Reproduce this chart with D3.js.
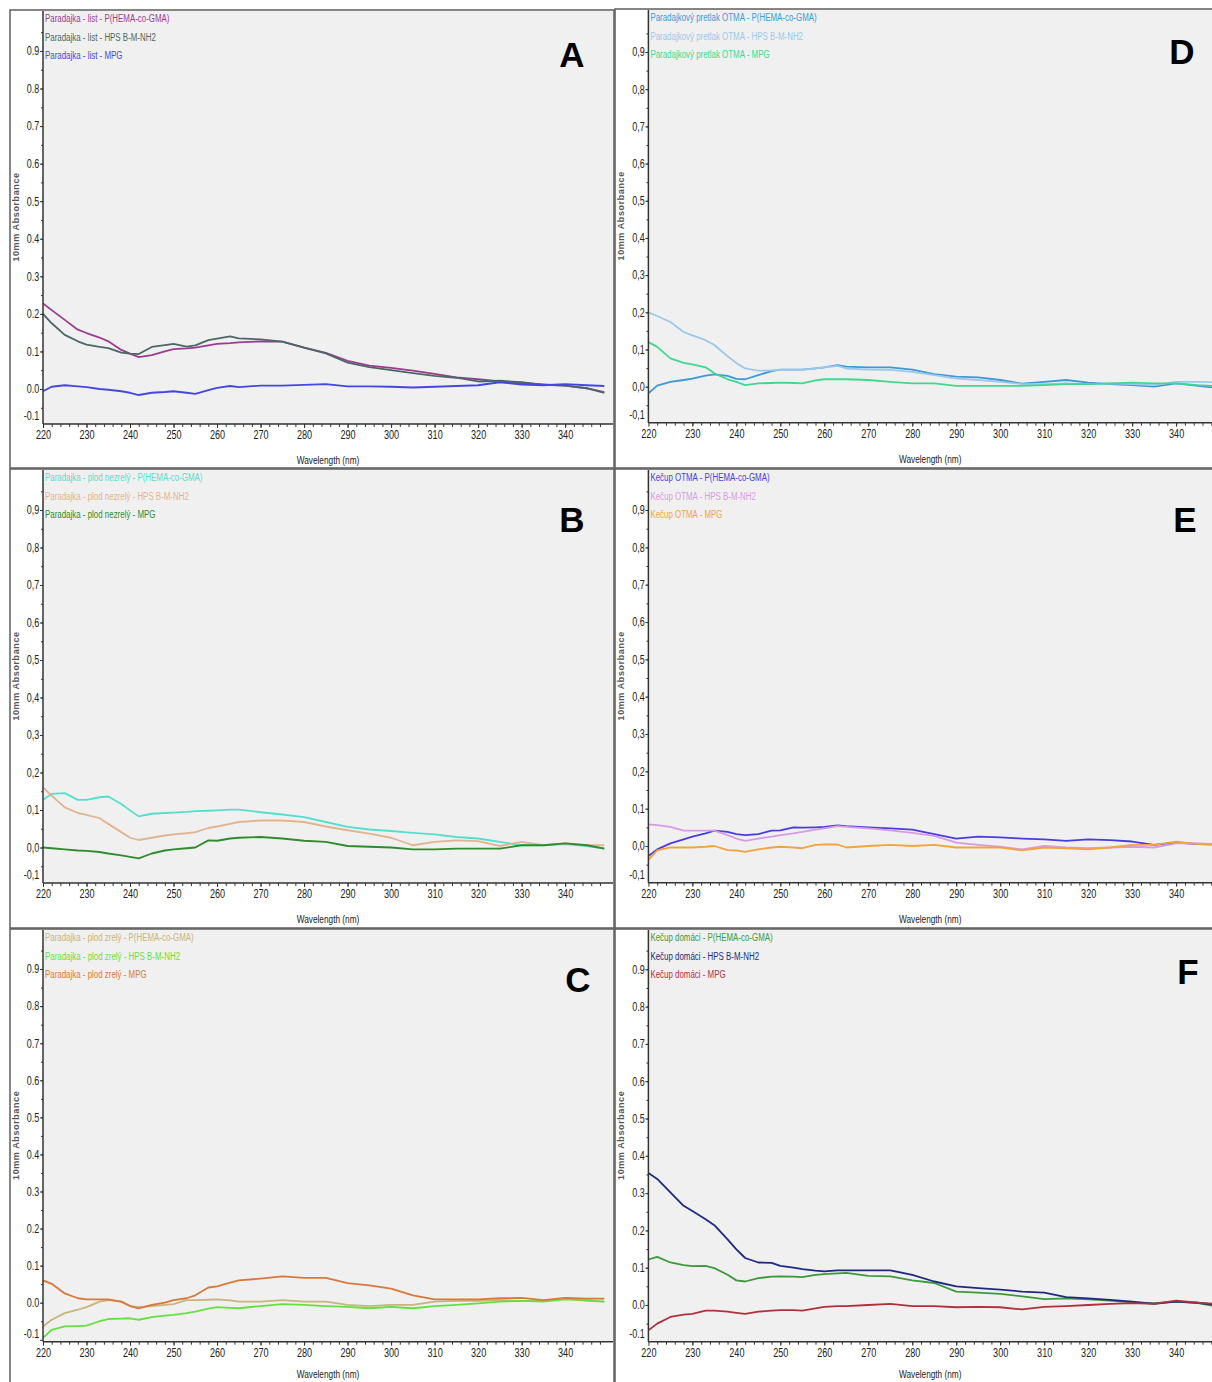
<!DOCTYPE html>
<html>
<head>
<meta charset="utf-8">
<script src="https://cdn.jsdelivr.net/npm/d3@7"></script>
<style>
body{margin:0;background:#fff;}
text{font-family:"Liberation Sans Narrow","Liberation Sans",Arial,sans-serif;}
</style>
</head>
<body>
<svg id="chart" width="1212" height="1382"></svg>
<script>
// wavelengths (nm) shared by all spectra
var wavelengths = [220,222,225,228,230,233,235,238,240,242,245,248,250,253,255,258,260,263,265,270,275,280,285,290,295,300,305,310,315,320,325,330,335,340,345,349];

// A - Paradajka list
var listHema = [.228,.21,.184,.158,.149,.137,.127,.104,.094,.085,.09,.1,.106,.108,.11,.116,.12,.122,.124,.127,.126,.11,.096,.075,.062,.056,.049,.04,.031,.026,.02,.016,.012,.009,.002,-.008];
var listHps = [.2,.175,.144,.127,.118,.112,.109,.097,.094,.093,.112,.117,.12,.113,.116,.13,.134,.14,.135,.132,.126,.11,.095,.07,.058,.05,.042,.035,.03,.02,.022,.018,.011,.009,.002,-.01];
var listMpg = [-.006,.006,.01,.007,.005,0,-.002,-.006,-.01,-.016,-.01,-.008,-.006,-.01,-.013,-.003,.003,.008,.005,.009,.009,.011,.013,.007,.007,.006,.004,.006,.008,.01,.018,.012,.01,.013,.01,.008];

// B - Paradajka plod nezrely
var nezrelyHema = [.127,.143,.145,.127,.127,.134,.136,.116,.099,.083,.09,.092,.093,.095,.097,.098,.099,.101,.101,.094,.088,.081,.068,.055,.048,.044,.039,.035,.028,.024,.015,.006,.006,.009,.004,-.003];
var nezrelyHps = [.16,.138,.107,.092,.087,.078,.063,.041,.026,.02,.026,.032,.035,.038,.041,.052,.056,.063,.068,.072,.072,.068,.056,.046,.037,.026,.006,.015,.019,.017,.004,.015,.006,.011,.006,.006];
var nezrelyMpg = [0,-.002,-.005,-.008,-.009,-.012,-.016,-.021,-.025,-.029,-.016,-.008,-.005,-.002,0,.019,.018,.024,.026,.028,.024,.018,.015,.004,.002,0,-.005,-.005,-.003,-.003,-.003,.006,.006,.011,.006,-.003];

// C - Paradajka plod zrely
var zrelyHema = [-.064,-.046,-.028,-.019,-.012,.003,.007,.003,-.009,-.012,-.009,-.006,-.004,.007,.007,.008,.009,.006,.003,.003,.007,.003,.003,-.006,-.009,-.006,-.006,.003,.005,.005,.007,.005,.005,.011,.005,.003];
var zrelyHps = [-.095,-.073,-.064,-.063,-.062,-.05,-.044,-.043,-.042,-.046,-.039,-.035,-.033,-.028,-.024,-.016,-.012,-.014,-.015,-.009,-.004,-.006,-.009,-.011,-.015,-.011,-.015,-.009,-.006,-.002,.003,.005,.003,.009,.007,.003];
var zrelyMpg = [.06,.051,.025,.012,.009,.009,.009,.003,-.009,-.015,-.006,0,.007,.012,.02,.041,.044,.054,.06,.065,.071,.067,.067,.053,.047,.038,.02,.009,.009,.009,.012,.013,.007,.013,.011,.011];

// D - Paradajkovy pretlak OTMA
var pretlakHema = [-.018,.003,.013,.018,.022,.03,.033,.029,.021,.02,.031,.042,.046,.046,.046,.049,.052,.058,.054,.052,.052,.046,.034,.027,.025,.018,.008,.013,.018,.011,.007,.004,0,.009,.002,-.003];
var pretlakHps = [.2,.19,.174,.147,.138,.125,.112,.082,.064,.049,.043,.044,.045,.045,.045,.049,.052,.056,.049,.046,.045,.04,.031,.022,.018,.013,.007,.007,.009,.007,.009,.007,.004,.013,.013,.012];
var pretlakMpg = [.12,.107,.076,.064,.06,.052,.036,.02,.013,.004,.009,.01,.011,.01,.009,.017,.02,.02,.02,.018,.013,.009,.009,.002,.002,.002,.002,.004,.007,.007,.009,.011,.009,.009,.004,.002];

// E - Kecup OTMA
var kecupHema = [-.027,-.009,.007,.018,.025,.034,.041,.038,.032,.029,.032,.041,.042,.05,.049,.05,.051,.055,.053,.05,.047,.044,.032,.02,.025,.023,.02,.018,.014,.018,.016,.012,.003,.009,.005,.004];
var kecupHps = [.058,.056,.051,.041,.041,.041,.041,.029,.02,.014,.02,.025,.029,.034,.038,.044,.047,.053,.051,.047,.042,.035,.027,.009,.003,-.002,-.009,0,-.004,-.006,-.004,-.002,-.004,.007,.007,.005];
var kecupMpg = [-.037,-.012,-.004,-.004,-.004,-.002,0,-.011,-.012,-.016,-.009,-.004,-.002,-.004,-.006,.003,.004,.004,-.004,0,.003,0,.003,-.004,-.004,-.004,-.012,-.004,-.006,-.009,-.004,.003,.003,.012,.005,.003];

// F - Kecup domaci
var domaciHema = [.122,.129,.114,.107,.104,.105,.099,.081,.066,.063,.072,.076,.077,.076,.075,.081,.083,.085,.086,.078,.077,.066,.059,.036,.033,.03,.023,.016,.018,.015,.012,.007,.005,.009,.005,-.003];
var domaciHps = [.354,.338,.302,.266,.252,.23,.214,.176,.149,.126,.114,.113,.105,.1,.096,.092,.09,.093,.093,.093,.093,.081,.063,.05,.045,.041,.036,.033,.021,.018,.014,.009,.003,.009,.006,0];
var domaciMpg = [-.068,-.05,-.032,-.026,-.024,-.015,-.015,-.018,-.021,-.024,-.018,-.015,-.014,-.014,-.015,-.009,-.005,-.003,-.003,0,.003,-.003,-.003,-.006,-.005,-.006,-.012,-.005,-.003,0,.003,.005,.003,.012,.006,.003];

var sorbents = ["P(HEMA-co-GMA)", "HPS B-M-NH2", "MPG"];
var xTicks = [220,230,240,250,260,270,280,290,300,310,320,330,340];
var yTicks = [-0.1,0,0.1,0.2,0.3,0.4,0.5,0.6,0.7,0.8,0.9];

var panels = [
  {letter:"A", prefix:"Paradajka - list - ", series:[listHema, listHps, listMpg], colors:["#9a3c94","#4a6864","#4646e0"], dec:".",
   col:0, top:10, h:458, y0:389, y1:13.4, bottom:424, lx:572, ly:55},
  {letter:"B", prefix:"Paradajka - plod nezrelý - ", series:[nezrelyHema, nezrelyHps, nezrelyMpg], colors:["#52e0cc","#e2b48e","#2e8b2e"], dec:",",
   col:0, top:469, h:459, y0:847.5, y1:472.5, bottom:883, lx:572, ly:520},
  {letter:"C", prefix:"Paradajka - plod zrelý - ", series:[zrelyHema, zrelyHps, zrelyMpg], colors:["#c8b47c","#66e040","#d8783a"], dec:".",
   col:0, top:929, h:470, y0:1302.7, y1:932, bottom:1341.7, lx:578, ly:980},
  {letter:"D", prefix:"Paradajkový pretlak OTMA - ", series:[pretlakHema, pretlakHps, pretlakMpg], colors:["#3a9ad8","#9cc8ea","#40d890"], dec:",",
   col:1, top:9, h:459, y0:386.7, y1:14.8, bottom:422.7, lx:1182, ly:52},
  {letter:"E", prefix:"Kečup OTMA - ", series:[kecupHema, kecupHps, kecupMpg], colors:["#4a3ce0","#d89ae6","#f2a43a"], dec:",",
   col:1, top:469, h:459, y0:846, y1:472.7, bottom:882.7, lx:1185, ly:520},
  {letter:"F", prefix:"Kečup domáci - ", series:[domaciHema, domaciHps, domaciMpg], colors:["#3a9a3a","#1e2a80","#b0303c"], dec:".",
   col:1, top:929, h:470, y0:1305, y1:932, bottom:1341.7, lx:1188, ly:972}
];

var svg = d3.select("#chart");

panels.forEach(function(p, idx){
  var left = p.col == 0 ? 10 : 615;
  var boxR = p.col == 0 ? 614 : 1224;
  var axisX = p.col == 0 ? 43 : 648.4;
  var plotR = p.col == 0 ? 613 : 1212;
  var x = d3.scaleLinear()
    .domain(p.col == 0 ? [220, 351] : [220, 350])
    .range(p.col == 0 ? [43, 613] : [648.4, 1220.1]);
  var y = d3.scaleLinear().domain([0, 1]).range([p.y0, p.y1]);

  var g = svg.append("g");
  g.append("rect")
    .attr("x", left).attr("y", p.top)
    .attr("width", boxR - left).attr("height", p.h)
    .attr("fill", "#fff").attr("stroke", "#5e5e5e").attr("stroke-width", 1.5);
  g.append("rect")
    .attr("x", axisX).attr("y", p.top + 1)
    .attr("width", plotR - axisX).attr("height", p.bottom - p.top - 1)
    .attr("fill", "#f0f0f0");

  g.append("clipPath").attr("id", "clip" + idx)
    .append("rect")
    .attr("x", axisX).attr("y", p.top + 1)
    .attr("width", plotR - axisX).attr("height", p.bottom - p.top - 1);

  // legend
  p.series.forEach(function(s, i){
    g.append("text")
      .attr("transform", "translate(" + (axisX + 2) + "," + (p.top + 12 + i * 18.5) + ") scale(0.72,1)")
      .attr("font-size", 11)
      .attr("fill", p.colors[i])
      .text(p.prefix + sorbents[i]);
  });

  // spectra
  var line = d3.line()
    .x(function(d, i){ return x(wavelengths[i]); })
    .y(function(d){ return y(d); });
  g.append("g").attr("clip-path", "url(#clip" + idx + ")")
    .selectAll("path")
    .data(p.series)
    .enter().append("path")
    .attr("d", line)
    .attr("fill", "none")
    .attr("stroke", function(d, i){ return p.colors[i]; })
    .attr("stroke-width", 1.8)
    .attr("stroke-linejoin", "round");

  // y axis
  var fmt = function(d){ return d3.format(".1f")(d).replace("−", "-").replace(".", p.dec); };
  var yMinor = d3.range(-0.05, 1.0, 0.05).filter(function(v){ return y(v) < p.bottom; });
  g.append("g").attr("transform", "translate(" + axisX + ",0)")
    .call(d3.axisLeft(y).tickValues(yMinor).tickSize(2).tickFormat(""))
    .call(function(a){ a.select(".domain").remove(); a.selectAll("line").attr("stroke", "#333"); });
  var ya = g.append("g").attr("transform", "translate(" + axisX + ",0)")
    .call(d3.axisLeft(y).tickValues(yTicks).tickSize(3).tickFormat(fmt));
  ya.select(".domain").remove();
  ya.selectAll("line").attr("stroke", "#333").filter(function(d){ return y(d) > p.bottom; }).remove();
  ya.selectAll("text")
    .attr("font-family", "Liberation Sans Narrow, Liberation Sans, Arial")
    .attr("font-size", 12)
    .attr("fill", "#222")
    .attr("x", -5)
    .attr("transform", function(d){ return "translate(0," + (y(d) > p.bottom - 4 ? p.bottom - 8 - y(d) : 0) + ") scale(0.75,1)"; });

  // x axis
  var xMinor = d3.range(222, 350, 2);
  g.append("g").attr("transform", "translate(0," + p.bottom + ")")
    .call(d3.axisBottom(x).tickValues(xMinor).tickSize(3).tickFormat(""))
    .call(function(a){ a.select(".domain").remove(); a.selectAll("line").attr("stroke", "#333"); });
  var xa = g.append("g").attr("transform", "translate(0," + p.bottom + ")")
    .call(d3.axisBottom(x).tickValues(xTicks).tickSize(4).tickFormat(d3.format("d")));
  xa.select(".domain").remove();
  xa.selectAll("line").attr("stroke", "#333");
  xa.selectAll("text")
    .attr("font-family", "Liberation Sans Narrow, Liberation Sans, Arial")
    .attr("font-size", 13)
    .attr("fill", "#222")
    .attr("y", 6)
    .attr("transform", "scale(0.7,1)");

  // axis lines
  g.append("line").attr("x1", axisX).attr("x2", axisX).attr("y1", p.top + 1).attr("y2", p.bottom)
    .attr("stroke", "#333").attr("stroke-width", 1.5);
  g.append("line").attr("x1", axisX).attr("x2", plotR).attr("y1", p.bottom).attr("y2", p.bottom)
    .attr("stroke", "#333").attr("stroke-width", 1.5);

  // titles
  g.append("text")
    .attr("transform", "translate(" + ((axisX + plotR) / 2) + "," + Math.min(p.bottom + 40, 1378) + ") scale(0.75,1)")
    .attr("text-anchor", "middle")
    .attr("font-size", 11)
    .attr("fill", "#222")
    .text("Wavelength (nm)");
  g.append("text")
    .attr("transform", "translate(" + (left + 9) + "," + ((p.top + p.bottom) / 2) + ") rotate(-90)")
    .attr("text-anchor", "middle")
    .attr("font-family", "Liberation Sans, Arial")
    .attr("font-weight", "bold")
    .attr("font-size", 9)
    .attr("letter-spacing", 0.6)
    .attr("fill", "#555")
    .text("10mm Absorbance");

  g.append("text")
    .attr("x", p.lx).attr("y", p.ly + 12)
    .attr("text-anchor", "middle")
    .attr("font-family", "Liberation Sans, Arial")
    .attr("font-weight", "bold")
    .attr("font-size", 35)
    .attr("fill", "#000")
    .text(p.letter);
});
</script>
</body>
</html>
